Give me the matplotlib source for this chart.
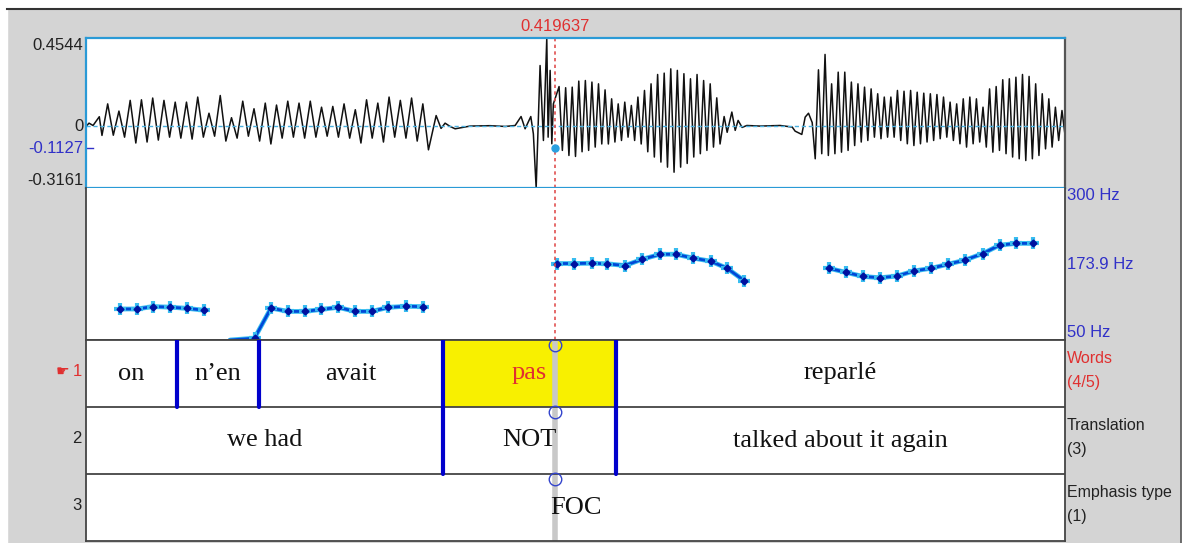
import numpy as np
import matplotlib
matplotlib.use("Agg")
import matplotlib.pyplot as plt
from matplotlib import transforms
from matplotlib.patches import Rectangle

# visible time window (s) and cursor
t_start, t_end = 0.0, 0.876
cursor_t = 0.419637
cursor_amp = -0.1127
amp_min, amp_max = -0.3161, 0.4544
hz_min, hz_mid, hz_max = 50, 173.9, 300

# waveform: loose points + voiced stretches (one peak/trough per cycle)
lead_t = [0.0, 0.0027, 0.0063, 0.0119, 0.0143]
lead_a = [0.0, 0.017, 0.005, 0.05, -0.046]

span_a = (0.0194, 0.3014)
peaks_a = [0.116, 0.079, 0.134, 0.137, 0.146, 0.134, 0.125, 0.125, 0.151, 0.068,
           0.159, 0.045, 0.130, 0.091, 0.120, 0.110, 0.130, 0.120, 0.130, 0.099,
           0.103, 0.116, 0.086, 0.137, 0.120, 0.151, 0.134, 0.146, 0.116]
troughs_a = [-0.045, -0.055, -0.085, -0.08, -0.07, -0.055, -0.06, -0.065, -0.055, -0.05,
             -0.075, -0.06, -0.05, -0.075, -0.09, -0.06, -0.055, -0.06, -0.055, -0.05,
             -0.055, -0.06, -0.085, -0.06, -0.08, -0.055, -0.06, -0.075, -0.12]

gap_ab_t = [0.3133, 0.3177, 0.3213, 0.3258, 0.3303, 0.3437, 0.3616, 0.3751, 0.3840, 0.3893,
            0.3929, 0.3980, 0.4003, 0.4028, 0.4063, 0.4093, 0.4123, 0.4135, 0.4153, 0.4168, 0.4182]
gap_ab_a = [0.056, -0.01, 0.017, 0.0, -0.012, 0.002, 0.004, 0.0, 0.005, 0.051,
            -0.012, 0.051, -0.038, -0.316, 0.313, -0.072, 0.454, -0.055, 0.288, -0.089, 0.116]

span_b = (0.4233, 0.5644)
peaks_b = [0.205, 0.199, 0.202, 0.233, 0.236, 0.228, 0.219, 0.188, 0.142, 0.116,
           0.125, 0.108, 0.151, 0.185, 0.219, 0.267, 0.274, 0.296, 0.288, 0.271,
           0.245, 0.267, 0.236, 0.219, 0.147]
troughs_b = [-0.123, -0.149, -0.154, -0.13, -0.123, -0.106, -0.09, -0.09, -0.08, -0.072,
             -0.055, -0.072, -0.09, -0.13, -0.157, -0.183, -0.209, -0.235, -0.209, -0.19,
             -0.157, -0.14, -0.123, -0.106, -0.09]

gap_bc_t = [0.5710, 0.5737, 0.5779, 0.5809, 0.5835, 0.5871, 0.5913, 0.6032, 0.6211, 0.6319,
            0.6345, 0.6405, 0.6435, 0.6465, 0.6498, 0.6525]
gap_bc_a = [0.051, -0.03, 0.074, -0.02, 0.031, -0.005, 0.005, 0.002, 0.005, -0.003,
            -0.024, -0.041, 0.048, 0.068, 0.02, -0.166]

span_c = (0.6554, 0.8733)
peaks_c = [0.291, 0.37, 0.219, 0.279, 0.279, 0.228, 0.219, 0.202, 0.193, 0.168,
           0.151, 0.151, 0.185, 0.181, 0.185, 0.176, 0.171, 0.168, 0.164, 0.151,
           0.125, 0.116, 0.142, 0.151, 0.142, 0.099, 0.193, 0.205, 0.240, 0.245,
           0.253, 0.267, 0.257, 0.219, 0.168, 0.142, 0.099, 0.082]
troughs_c = [-0.140, -0.149, -0.140, -0.132, -0.123, -0.098, -0.080, -0.072, -0.055, -0.063,
             -0.055, -0.055, -0.072, -0.089, -0.098, -0.089, -0.080, -0.072, -0.063, -0.055,
             -0.072, -0.089, -0.106, -0.089, -0.080, -0.106, -0.132, -0.123, -0.140, -0.157,
             -0.166, -0.175, -0.166, -0.149, -0.115, -0.106, -0.072, -0.055]

# pitch track (Hz); 50 Hz = unvoiced floor
pitch_t_1 = [0.0304, 0.0456, 0.0600, 0.0752, 0.0904, 0.1056]
pitch_hz_1 = [101, 101, 105, 104, 102, 99]
pitch_t_2 = [0.1289, 0.1508, 0.1655, 0.1808, 0.1960, 0.2107, 0.2255, 0.2407, 0.2556,
             0.2706, 0.2861, 0.3016]
pitch_hz_2 = [50, 53, 102.5, 97, 97, 100.3, 103.7, 97, 97, 103.7, 105.4, 104.9]
pitch_t_3 = [0.4214, 0.4367, 0.4525, 0.4662, 0.4823, 0.4975, 0.5136, 0.5279, 0.5431,
             0.5588, 0.5736, 0.5892]
pitch_hz_3 = [175.8, 175.8, 176.3, 175.3, 172.5, 182.6, 191, 191, 184.7, 179.7, 168, 147.3]
pitch_t_4 = [0.6648, 0.6800, 0.6953, 0.7105, 0.7257, 0.7409, 0.7565, 0.7713, 0.7865,
             0.8023, 0.8175, 0.8326, 0.8473]
pitch_hz_4 = [168, 161.2, 154.5, 152.4, 155.2, 163.6, 168, 174.7, 181.4, 192.1, 206, 208.9, 208.9]

# annotation tiers: (start, end, label)
words = [(0.0, 0.0814, "on"), (0.0814, 0.1548, "n\u2019en"), (0.1548, 0.3195, "avait"),
         (0.3195, 0.4744, "pas"), (0.4744, 0.876, "reparl\u00e9")]
translation = [(0.0, 0.3195, "we had"), (0.3195, 0.4744, "NOT"),
               (0.4744, 0.876, "talked about it again")]
emphasis = [(0.0, 0.876, "FOC")]
tier_names = ["Words", "Translation", "Emphasis type"]
tier_counts = ["(4/5)", "(3)", "(1)"]
selected = (0, 3)  # first tier, interval "pas"


def cycles(span, peaks, troughs):
    tp = np.linspace(span[0], span[1], len(peaks))
    half = (tp[1] - tp[0]) / 2
    t = np.column_stack([tp, tp + half]).ravel()
    a = np.column_stack([peaks, troughs]).ravel()
    return t, a


ta, aa = cycles(span_a, peaks_a, troughs_a)
tb, ab = cycles(span_b, peaks_b, troughs_b)
tc, ac = cycles(span_c, peaks_c, troughs_c)
wave_t = np.concatenate([lead_t, ta, gap_ab_t, tb, gap_bc_t, tc])
wave_a = np.concatenate([lead_a, aa, gap_ab_a, ab, gap_bc_a, ac])

W, H = 1184, 543
fig = plt.figure(figsize=(W / 100, H / 100), dpi=100, facecolor="#d4d4d4")


def box(x0, y0, x1, y1):
    return [x0 / W, 1 - y1 / H, (x1 - x0) / W, (y1 - y0) / H]


# window frame
fig.patches.append(Rectangle((0, 1 - 8 / H), 1, 8 / H, transform=fig.transFigure, color="white"))
fig.patches.append(Rectangle((0, 0), 7 / W, 1, transform=fig.transFigure, color="white"))
fig.patches.append(Rectangle((1181 / W, 0), 3 / W, 1, transform=fig.transFigure, color="white"))
fig.lines.append(plt.Line2D([7 / W, 1181 / W], [1 - 8.5 / H] * 2, transform=fig.transFigure,
                            color="#333333", lw=1.5))
fig.lines.append(plt.Line2D([1180.5 / W] * 2, [0, 1 - 8.5 / H], transform=fig.transFigure,
                            color="#555555", lw=1.2))

sans = "Liberation Sans"
serif = "Liberation Serif"
blue_lbl = "#3030c8"
red_lbl = "#e03030"

# ---- waveform ----
ax_w = fig.add_axes(box(86, 38, 1065, 188))
ax_w.plot(wave_t, wave_a, color="#111111", lw=1.1)
ax_w.axhline(0, color="#4ab0e0", lw=1, ls=(0, (3, 2)))
ax_w.axvline(cursor_t, color="#e05050", lw=1.2, ls=(0, (2, 2)))
ax_w.plot([cursor_t], [cursor_amp], "o", color="#2aa0e0", ms=5)
ax_w.axhline(cursor_amp, xmin=0, xmax=0.007, color=blue_lbl, lw=1)
ax_w.set_xlim(t_start, t_end)
ax_w.set_ylim(amp_min, amp_max)
ax_w.set_xticks([])
ax_w.set_yticks([])
for s in ax_w.spines.values():
    s.set_color("#2a9ad6")
    s.set_linewidth(1.6)
ax_w.spines["right"].set_color("#555555")
ylab = transforms.blended_transform_factory(ax_w.transAxes, ax_w.transData)
for val, txt, va, col in [(amp_max, "0.4544", "top", "#222222"), (0, "0", "center", "#222222"),
                          (cursor_amp, "-0.1127", "center", blue_lbl),
                          (amp_min, "-0.3161", "bottom", "#222222")]:
    ax_w.annotate(txt, (0, val), xycoords=ylab, xytext=(-2, 0), textcoords="offset points",
                  ha="right", va=va, fontsize=12, family=sans, color=col)
ax_w.annotate(f"{cursor_t:.6f}", (cursor_t, 1), xycoords=("data", "axes fraction"),
              xytext=(0, 3), textcoords="offset points", ha="center", va="bottom",
              fontsize=12, family=sans, color=red_lbl, annotation_clip=False)

# ---- pitch ----
ax_p = fig.add_axes(box(86, 188, 1065, 340))
for pt, ph in [(pitch_t_1, pitch_hz_1), (pitch_t_2, pitch_hz_2),
               (pitch_t_3, pitch_hz_3), (pitch_t_4, pitch_hz_4)]:
    pt = np.array(pt)
    ph = np.array(ph)
    ax_p.plot(pt, ph, color="#38bdf0", lw=3.4, solid_capstyle="round", clip_on=False)
    ax_p.plot(pt, ph, color="#0048d8", lw=2.0, clip_on=False)
    v = ph > hz_min
    ax_p.plot(pt[v], ph[v], "+", color="#38bdf0", ms=8, mew=3)
    ax_p.plot(pt[v], ph[v], "D", color="#0010a0", ms=3.5)
ax_p.axvline(cursor_t, color="#e05050", lw=1.2, ls=(0, (2, 2)))
ax_p.set_xlim(t_start, t_end)
ax_p.set_ylim(hz_min, hz_max)
ax_p.set_xticks([])
ax_p.set_yticks([])
for s in ax_p.spines.values():
    s.set_color("#444444")
    s.set_linewidth(1.3)
ax_p.spines["top"].set_visible(False)
hzlab = transforms.blended_transform_factory(ax_p.transAxes, ax_p.transData)
for val, va in [(hz_max, "top"), (hz_mid, "center"), (hz_min, "bottom")]:
    ax_p.annotate(f"{val:g} Hz", (1, val), xycoords=hzlab, xytext=(1.5, 0),
                  textcoords="offset points", ha="left", va=va, fontsize=12,
                  family=sans, color=blue_lbl)

# ---- tiers ----
ax_t = fig.add_axes(box(86, 340, 1065, 541))
ax_t.set_xlim(t_start, t_end)
ax_t.set_ylim(3, 0)
ax_t.set_xticks([])
ax_t.set_yticks([])
for s in ax_t.spines.values():
    s.set_color("#444444")
    s.set_linewidth(1.3)
for r in (1, 2):
    ax_t.axhline(r, color="#444444", lw=1.3)

tiers = [words, translation, emphasis]
for row, tier in enumerate(tiers):
    for i, (s, e, lab) in enumerate(tier):
        col = "#111111"
        if (row, i) == selected:
            ax_t.fill_between([s, e], row, row + 1, color="#f8f000", lw=0, zorder=0.5)
            col = red_lbl
        ax_t.text((s + e) / 2, row + 0.5, lab, ha="center", va="center",
                  fontsize=19, family=serif, color=col, zorder=3)
        if i > 0:
            ax_t.plot([s, s], [row, row + 1], color="#0000cc", lw=3,
                      solid_capstyle="round", zorder=4)

ax_t.axvline(cursor_t, color="#c8c8c8", lw=4, zorder=1)
for row in range(3):
    ax_t.plot([cursor_t], [row + 0.075], "o", mfc="none", mec="#3344cc", ms=9, mew=1, zorder=5)

rowlab = transforms.blended_transform_factory(ax_t.transAxes, ax_t.transData)
for row in range(3):
    col = red_lbl if row == 0 else "#222222"
    ax_t.annotate(str(row + 1), (0, row + 0.47), xycoords=rowlab, xytext=(-3, 0),
                  textcoords="offset points", ha="right", va="center", fontsize=12,
                  family=sans, color=col)
    ax_t.annotate(tier_names[row], (1, row + 0.27), xycoords=rowlab, xytext=(1.5, 0),
                  textcoords="offset points", ha="left", va="center", fontsize=11.5,
                  family=sans, color=col, annotation_clip=False)
    ax_t.annotate(tier_counts[row], (1, row + 0.63), xycoords=rowlab, xytext=(1.5, 0),
                  textcoords="offset points", ha="left", va="center", fontsize=11.5,
                  family=sans, color=col, annotation_clip=False)
ax_t.annotate("\u261b", (0, 0.47), xycoords=rowlab, xytext=(-12, 0),
              textcoords="offset points", ha="right", va="center", fontsize=11,
              family="DejaVu Sans", color=red_lbl)

fig.savefig("out.png", dpi=100, facecolor=fig.get_facecolor())
